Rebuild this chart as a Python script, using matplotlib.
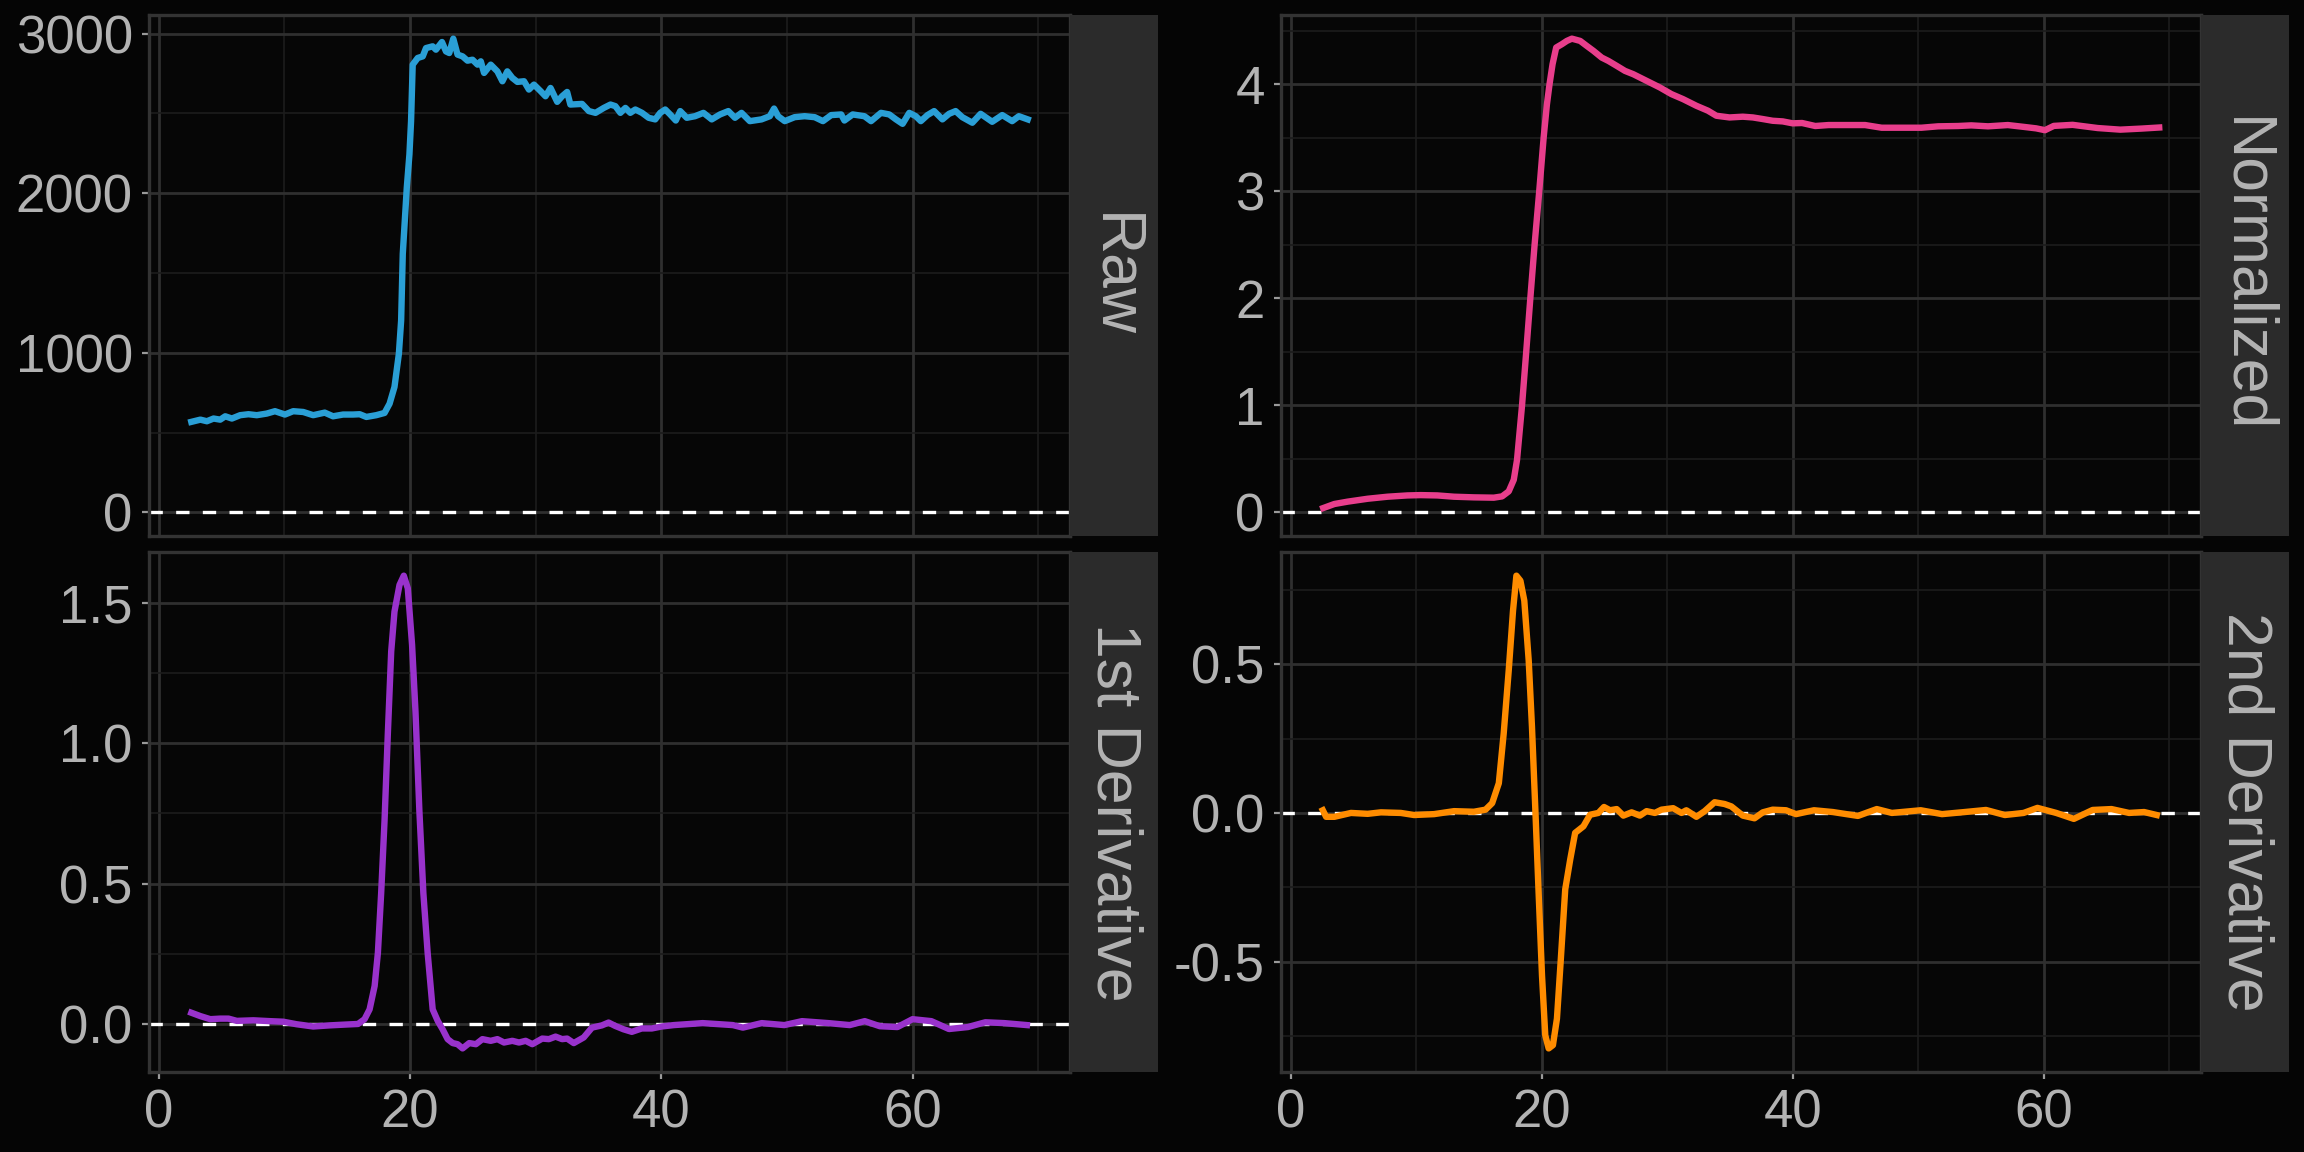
import numpy as np
import matplotlib
matplotlib.use("Agg")
from matplotlib import pyplot as plt
from matplotlib.ticker import MultipleLocator, FormatStrFormatter

plt.rcParams['font.family'] = ['Liberation Sans', 'DejaVu Sans']
plt.rcParams['axes.unicode_minus'] = False

# values
raw_x = [2.6, 3.32, 3.84, 4.37, 4.90, 5.30, 5.83, 6.49, 7.15, 7.81, 8.60, 9.26, 10.05, 10.71,
         11.51, 12.30, 13.22, 13.88, 14.68, 15.47, 16.00, 16.53, 17.32, 17.98, 18.38, 18.77,
         19.12, 19.30, 19.43, 19.59, 19.75, 19.96, 20.09, 20.17, 20.22, 20.62, 21.02, 21.28,
         21.81, 22.07, 22.55, 22.87, 23.13, 23.45, 23.79, 24.19, 24.58, 24.98, 25.38, 25.64,
         25.90, 26.43, 26.96, 27.36, 27.75, 28.15, 28.55, 29.08, 29.47, 29.87, 30.40, 30.79,
         31.19, 31.72, 32.11, 32.51, 32.77, 33.70, 34.24, 34.77, 35.43, 35.96, 36.35, 36.75,
         37.15, 37.54, 37.94, 38.47, 39.00, 39.52, 39.92, 40.32, 40.71, 41.16, 41.51, 42.03,
         42.69, 43.36, 44.02, 44.68, 45.34, 45.87, 46.39, 47.05, 47.98, 48.64, 48.98, 49.30,
         49.83, 50.62, 51.41, 52.21, 52.87, 53.53, 54.32, 54.58, 55.24, 56.17, 56.70, 57.49,
         58.15, 58.68, 59.21, 59.74, 60.26, 60.66, 61.19, 61.72, 62.38, 62.91, 63.43, 63.96,
         64.76, 65.42, 66.34, 67.14, 67.93, 68.46, 69.17]
raw_y = [567, 581, 571, 588, 581, 602, 588, 609, 615, 609, 619, 634, 613, 634,
         629, 609, 625, 602, 613, 613, 615, 598, 609, 623, 681, 786,
         994, 1202, 1619, 1827, 2035, 2244, 2452, 2660, 2806, 2848, 2858, 2910,
         2921, 2900, 2948, 2889, 2879, 2969, 2869, 2858, 2831, 2837, 2806, 2827,
         2754, 2806, 2764, 2702, 2764, 2723, 2698, 2702, 2650, 2681, 2640, 2608,
         2660, 2573, 2608, 2635, 2556, 2560, 2515, 2504, 2535, 2556, 2546, 2504,
         2535, 2504, 2525, 2504, 2473, 2463, 2504, 2525, 2494, 2456, 2515, 2473,
         2483, 2504, 2463, 2494, 2515, 2473, 2504, 2452, 2463, 2483, 2531, 2483,
         2452, 2477, 2483, 2477, 2452, 2490, 2494, 2456, 2494, 2483, 2452, 2504,
         2494, 2463, 2435, 2504, 2483, 2452, 2490, 2515, 2463, 2498, 2515, 2477,
         2442, 2498, 2448, 2490, 2452, 2483, 2463]

norm_x = [2.6, 3.49, 4.55, 6.14, 7.72, 9.31, 10.37, 11.69, 13.02, 14.6, 16.19, 16.85, 17.38,
          17.78, 18.04, 18.44, 18.76, 19.1, 19.44, 19.81, 20.16, 20.42, 20.63, 20.87, 21.16,
          21.61, 22.01, 22.41, 23.07, 23.6, 24.13, 24.79, 25.32, 25.98, 26.64, 27.3, 28.36,
          29.42, 30.34, 31.27, 32.33, 33.25, 33.92, 34.97, 36.03, 36.83, 37.62, 38.41, 39.21,
          40.0, 40.75, 41.8, 42.86, 44.2, 45.77, 47.09, 48.4, 50.26, 51.59, 53.17, 54.23,
          55.56, 57.14, 58.47, 59.4, 60.1, 60.8, 62.3, 64.3, 66.1, 67.8, 69.2]
norm_y = [0.04, 0.078, 0.10, 0.127, 0.146, 0.158, 0.161, 0.158, 0.146, 0.14, 0.137, 0.149, 0.196,
          0.304, 0.49, 1.0, 1.48, 2.0, 2.5, 3.0, 3.5, 3.81, 4.0, 4.186, 4.342,
          4.373, 4.404, 4.425, 4.404, 4.357, 4.311, 4.248, 4.217, 4.171, 4.124, 4.093, 4.031,
          3.969, 3.907, 3.86, 3.798, 3.752, 3.705, 3.689, 3.696, 3.689, 3.674, 3.658, 3.652,
          3.634, 3.637, 3.609, 3.618, 3.618, 3.618, 3.593, 3.593, 3.593, 3.606, 3.609, 3.615,
          3.606, 3.618, 3.6, 3.587, 3.57, 3.61, 3.62, 3.59, 3.575, 3.585, 3.595]

d1_x = [2.6, 3.32, 4.11, 4.9, 5.56, 6.22, 7.54, 8.86, 9.92, 10.98, 12.3, 13.62, 14.94, 15.87,
        16.39, 16.79, 17.19, 17.45, 17.71, 17.98, 18.24, 18.51, 18.77, 19.17, 19.51, 19.83,
        20.17, 20.44, 20.75, 21.07, 21.41, 21.81, 22.21, 22.6, 23.0, 23.4, 23.79, 24.19,
        24.72, 25.25, 25.77, 26.43, 26.96, 27.49, 28.15, 28.68, 29.21, 29.74, 30.53, 31.06,
        31.59, 32.11, 32.51, 33.04, 33.83, 34.49, 35.28, 35.81, 36.34, 37.0, 37.66, 38.45,
        39.25, 40.04, 41.0, 43.3, 45.7, 46.5, 48.0, 49.8, 51.2, 53.3, 55.0, 56.2, 57.4,
        58.8, 60.0, 61.5, 62.9, 64.4, 65.8, 67.3, 69.1]
d1_y = [0.041, 0.029, 0.018, 0.02, 0.02, 0.012, 0.014, 0.011, 0.009, 0.0, -0.008, -0.004, -0.001, 0.001,
        0.018, 0.053, 0.136, 0.254, 0.466, 0.725, 1.032, 1.327, 1.468, 1.563, 1.596, 1.551,
        1.35, 1.114, 0.761, 0.466, 0.254, 0.053, 0.012, -0.018, -0.053, -0.067, -0.071, -0.086,
        -0.067, -0.071, -0.053, -0.059, -0.053, -0.065, -0.059, -0.065, -0.059, -0.071, -0.051, -0.053,
        -0.044, -0.053, -0.051, -0.067, -0.047, -0.012, -0.004, 0.006, -0.006, -0.018, -0.027, -0.015,
        -0.015, -0.008, -0.003, 0.004, -0.003, -0.012, 0.004, -0.003, 0.011, 0.004, -0.003, 0.011, -0.007,
        -0.01, 0.018, 0.011, -0.017, -0.01, 0.007, 0.004, -0.003]

d2_x = [2.57, 2.83, 3.49, 4.81, 6.14, 7.2, 8.78, 9.84, 11.43, 13.02, 14.6, 15.53, 16.06, 16.59,
        16.98, 17.38, 17.72, 17.99, 18.31, 18.62, 18.97, 19.23, 19.5, 19.76, 20.03, 20.29,
        20.56, 20.9, 21.22, 21.53, 21.88, 22.28, 22.67, 23.33, 23.86, 24.52, 24.97, 25.45,
        25.98, 26.51, 27.17, 27.83, 28.36, 29.02, 29.55, 30.48, 31.14, 31.53, 32.33, 32.99,
        33.78, 34.58, 35.11, 36.03, 36.96, 37.62, 38.41, 39.47, 40.26, 41.7, 43.2, 45.2,
        46.7, 47.9, 50.2, 51.9, 53.7, 55.4, 56.9, 58.4, 59.5, 61.0, 62.4, 63.9, 65.4, 66.8,
        68.0, 69.0]
d2_y = [0.009, -0.013, -0.013, 0.0, -0.003, 0.002, 0.0, -0.007, -0.004, 0.006, 0.004, 0.011, 0.033, 0.1,
        0.268, 0.48, 0.68, 0.798, 0.781, 0.714, 0.513, 0.29, 0.011, -0.268, -0.547, -0.748,
        -0.792, -0.781, -0.692, -0.491, -0.257, -0.156, -0.067, -0.045, -0.006, 0.0, 0.02, 0.009,
        0.013, -0.009, 0.002, -0.009, 0.006, 0.0, 0.011, 0.016, 0.0, 0.009, -0.013, 0.006,
        0.036, 0.03, 0.022, -0.009, -0.018, 0.002, 0.011, 0.009, -0.004, 0.009, 0.003, -0.01,
        0.013, 0.0, 0.009, -0.004, 0.003, 0.01, -0.007, 0.0, 0.017, 0.0, -0.02, 0.01, 0.013, 0.0,
        0.003, -0.007]

strip_labels = ['Raw', 'Normalized', '1st Derivative', '2nd Derivative']
line_colors = ['#2a9fd6', '#e83e8c', '#9932cc', '#ff8c00']

BG = '#050505'
PANEL = '#060606'
GRID_MAJ = '#2f2f2f'
GRID_MIN = '#1c1c1c'
STRIP = '#2b2b2b'
TXT = '#b3b3b3'

fig = plt.figure(figsize=(11.52, 5.76), dpi=200, facecolor=BG)

all_x = np.concatenate([raw_x, norm_x, d1_x, d2_x])
xr = all_x.max() - all_x.min()
xlim = (all_x.min() - 0.05 * xr, all_x.max() + 0.05 * xr)

# (x, y, colour, label, rect, major step, minor step, format, bottom row)
panels = [
    (raw_x, raw_y, line_colors[0], strip_labels[0], [0.0647, 0.5347, 0.3997, 0.4523], 1000, 500, '%d', False),
    (norm_x, norm_y, line_colors[1], strip_labels[1], [0.556, 0.5347, 0.3993, 0.4523], 1, 0.5, '%d', False),
    (d1_x, d1_y, line_colors[2], strip_labels[2], [0.0647, 0.0694, 0.3997, 0.4514], 0.5, 0.25, '%.1f', True),
    (d2_x, d2_y, line_colors[3], strip_labels[3], [0.556, 0.0694, 0.3993, 0.4514], 0.5, 0.25, '%.1f', True),
]

for x, y, col, lab, rect, step, mstep, fmt, bottom in panels:
    ax = fig.add_axes(rect, facecolor=PANEL)
    y = np.array(y)
    lo = min(0, y.min())
    hi = max(0, y.max())
    pad = 0.05 * (hi - lo)
    ax.set_ylim(lo - pad, hi + pad)
    ax.set_xlim(*xlim)

    ax.xaxis.set_major_locator(MultipleLocator(20))
    ax.xaxis.set_minor_locator(MultipleLocator(10))
    ax.yaxis.set_major_locator(MultipleLocator(step))
    ax.yaxis.set_minor_locator(MultipleLocator(mstep))
    ax.yaxis.set_major_formatter(FormatStrFormatter(fmt))

    ax.grid(which='major', color=GRID_MAJ, lw=1.0)
    ax.grid(which='minor', color=GRID_MIN, lw=0.6)
    ax.set_axisbelow(True)

    ax.axhline(0, color='white', lw=1.2, ls=(0, (4, 4)), zorder=2)
    ax.plot(x, y, color=col, lw=2.3, zorder=3, solid_joinstyle='round')

    for s in ax.spines.values():
        s.set_color('#333333')
        s.set_linewidth(1.2)

    ax.tick_params(axis='both', which='major', direction='out', length=2.4, width=0.8,
                   color='#9a9a9a', labelcolor=TXT, labelsize=19, pad=3.5)
    ax.tick_params(axis='both', which='minor', length=0)
    if not bottom:
        ax.tick_params(axis='x', which='major', length=0, labelbottom=False)

    # facet strip on the right
    sx = rect[0] + rect[2]
    sax = fig.add_axes([sx, rect[1], 0.0382, rect[3]], facecolor=STRIP)
    sax.set_xticks([])
    sax.set_yticks([])
    for s in sax.spines.values():
        s.set_visible(False)
    sax.text(0.5, 0.5, lab, rotation=270, ha='center', va='center', color=TXT,
             fontsize=22.5, transform=sax.transAxes)

fig.savefig('out.png', dpi=200, facecolor=BG)
